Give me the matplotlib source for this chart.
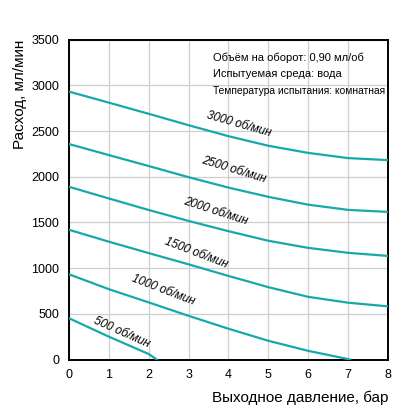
import matplotlib
matplotlib.use("Agg")
from matplotlib import pyplot as plt

# pressure, bar
x_full = [0, 1, 2, 3, 4, 5, 6, 7, 8]
x_1000 = [0, 1, 2, 3, 4, 5, 6, 7.05]
x_500 = [0, 1, 2, 2.2]

# flow, ml/min
flow_3000 = [2933, 2812, 2690, 2565, 2445, 2340, 2262, 2205, 2183]
flow_2500 = [2359, 2238, 2118, 1996, 1882, 1781, 1695, 1638, 1616]
flow_2000 = [1891, 1763, 1637, 1517, 1405, 1300, 1222, 1168, 1134]
flow_1500 = [1420, 1290, 1165, 1042, 915, 792, 686, 622, 582]
flow_1000 = [933, 770, 625, 478, 337, 205, 95, 0]
flow_500 = [452, 250, 60, 0]

curve_labels = ["3000 об/мин", "2500 об/мин", "2000 об/мин",
                "1500 об/мин", "1000 об/мин", "500 об/мин"]
label_x = [4.26, 4.14, 3.68, 3.18, 2.36, 1.33]
label_y = [2580, 2075, 1625, 1165, 760, 300]
label_rot = [-16, -17, -18, -21, -21, -24]

info_lines = ["Объём на оборот: 0,90 мл/об",
              "Испытуемая среда: вода",
              "Температура испытания: комнатная"]

x_ticks = [0, 1, 2, 3, 4, 5, 6, 7, 8]
y_ticks = [0, 500, 1000, 1500, 2000, 2500, 3000, 3500]

LINE_COLOR = "#17a9a8"


def main():
    plt.rcParams["font.family"] = ["Liberation Sans", "DejaVu Sans"]

    fig = plt.figure(figsize=(4.18, 4.19), dpi=100)
    ax = fig.add_axes([0.165, 0.142, 0.763, 0.763])

    series = [(x_full, flow_3000), (x_full, flow_2500), (x_full, flow_2000),
              (x_full, flow_1500), (x_1000, flow_1000), (x_500, flow_500)]
    for xs, ys in series:
        ax.plot(xs, ys, color=LINE_COLOR, lw=1.6, solid_joinstyle="round",
                zorder=3)

    for text, tx, ty, rot in zip(curve_labels, label_x, label_y, label_rot):
        ax.text(tx, ty, text, rotation=rot, fontsize=8.5, style="italic",
                ha="center", va="center", rotation_mode="anchor", zorder=4)

    for i, line in enumerate(info_lines):
        size = 8 if i < 2 else 7.4
        ax.text(0.453, 0.945 - i * 0.053, line, transform=ax.transAxes,
                fontsize=size, ha="left", va="center")

    ax.set_xlim(0, 8)
    ax.set_ylim(0, 3500)
    ax.set_xticks(x_ticks)
    ax.set_yticks(y_ticks)
    ax.tick_params(length=0, labelsize=9, pad=7)
    ax.grid(True, color="#cfcfcf", lw=0.9)
    ax.set_axisbelow(True)
    for spine in ax.spines.values():
        spine.set_linewidth(1.4)
        spine.set_color("black")

    ax.set_ylabel("Расход, мл/мин", fontsize=11, loc="top", labelpad=3)
    ax.set_xlabel("Выходное давление, бар", fontsize=11, loc="right",
                  labelpad=7)

    fig.savefig("out.png", dpi=100)


if __name__ == "__main__":
    main()
